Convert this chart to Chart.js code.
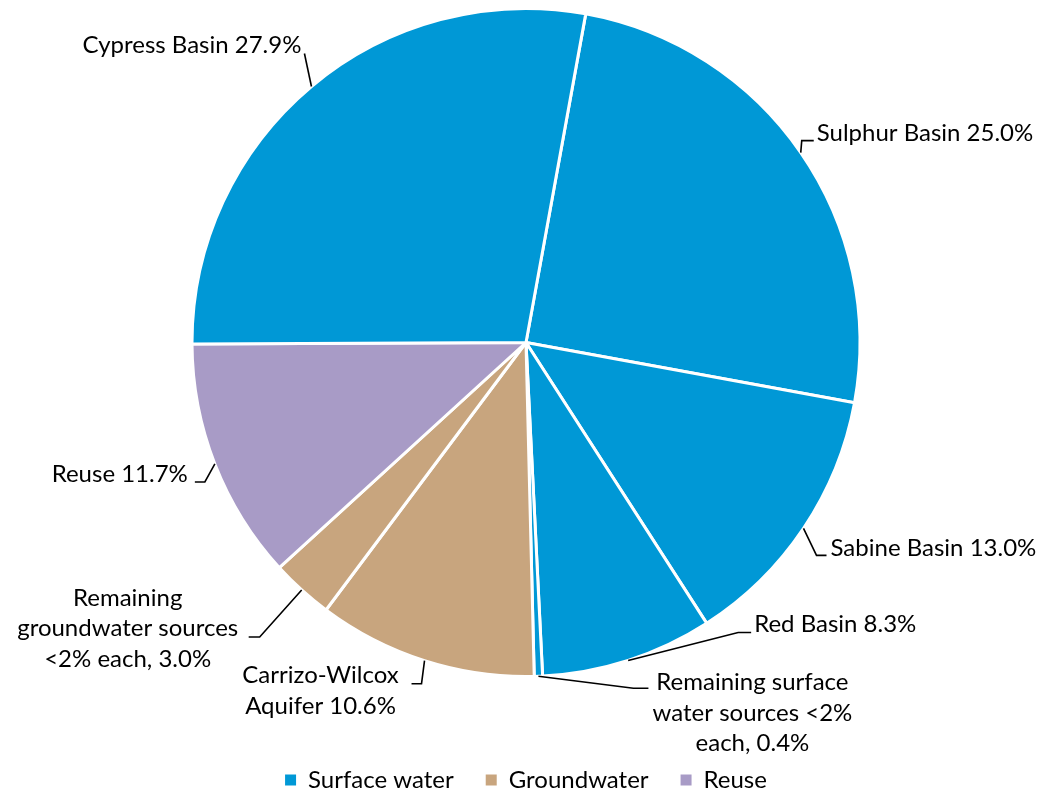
<!DOCTYPE html>
<html>
<head>
<meta charset="utf-8">
<script src="https://cdn.jsdelivr.net/npm/chart.js@4.4.1/dist/chart.umd.min.js"></script>
<style>
  html, body { margin: 0; padding: 0; background: #fff; }
  #wrap { width: 1038px; height: 788px; position: relative; }
</style>
</head>
<body>
<div id="wrap"><canvas id="pieChart"></canvas></div>
<script>
// slices, clockwise from Sulphur Basin
const sliceNames = ['Sulphur Basin', 'Sabine Basin', 'Red Basin',
  'Remaining surface water sources <2% each', 'Carrizo-Wilcox Aquifer',
  'Remaining groundwater sources <2% each', 'Reuse', 'Cypress Basin'];
const sliceValues = [25.0, 13.0, 8.3, 0.4, 10.6, 3.0, 11.7, 27.9];
const sliceGroup = [0, 0, 0, 0, 1, 1, 2, 0];
const sliceLabels = [
  ['Sulphur Basin 25.0%'],
  ['Sabine Basin 13.0%'],
  ['Red Basin 8.3%'],
  ['Remaining surface', 'water sources <2%', 'each, 0.4%'],
  ['Carrizo-Wilcox', 'Aquifer 10.6%'],
  ['Remaining', 'groundwater sources', '<2% each, 3.0%'],
  ['Reuse 11.7%'],
  ['Cypress Basin 27.9%']
];
const groupNames = ['Surface water', 'Groundwater', 'Reuse'];
const groupColors = ['#0098d6', '#c8a57e', '#a89bc6'];

// leader line layout: elbow offset from slice edge, horizontal run, text offset
const leader = [
  { ex: 1, ey: -12, h: 12, tx: 3, ty: -7, align: 'left' },
  { ex: 13, ey: 27, h: 10, tx: 4, ty: -7, align: 'left' },
  { ex: 110, ey: -28, h: 13, tx: 3, ty: -8, align: 'left' },
  { ex: 95, ey: 12, h: 15, tx: 104, ty: -6, align: 'center' },
  { ex: -3, ey: 23, h: -10, tx: -91, ty: -8, align: 'center' },
  { ex: -42, ey: 47, h: -11, tx: -121, ty: -39, align: 'center' },
  { ex: -10, ey: 18, h: -10, tx: -7, ty: -8, align: 'right' },
  { ex: -7, ey: -33, h: 0, tx: -3, ty: -8, align: 'right' }
];

const FAMILY = 'Lato, "Open Sans", sans-serif';
const FONT = '24px ' + FAMILY;

const leaderLabels = {
  id: 'leaderLabels',
  afterDatasetsDraw(chart) {
    const ctx = chart.ctx;
    const arcs = chart.getDatasetMeta(0).data;
    ctx.save();
    ctx.strokeStyle = '#000';
    ctx.lineWidth = 1.6;
    ctx.fillStyle = '#000';
    ctx.font = FONT;
    ctx.textBaseline = 'middle';
    arcs.forEach((arc, i) => {
      const p = arc.getProps(['x', 'y', 'startAngle', 'endAngle', 'outerRadius'], true);
      const mid = (p.startAngle + p.endAngle) / 2;
      const x0 = p.x + Math.cos(mid) * p.outerRadius;
      const y0 = p.y + Math.sin(mid) * p.outerRadius;
      const L = leader[i];
      const x1 = x0 + L.ex, y1 = y0 + L.ey;
      const x2 = x1 + L.h;
      ctx.beginPath();
      ctx.moveTo(x0, y0);
      ctx.lineTo(x1, y1);
      ctx.lineTo(x2, y1);
      ctx.stroke();
      ctx.textAlign = L.align;
      sliceLabels[i].forEach((line, k) => {
        ctx.fillText(line, x2 + L.tx, y1 + L.ty + k * 30.5);
      });
    });
    ctx.restore();
  }
};

const pieChart = new Chart(document.getElementById('pieChart'), {
  type: 'pie',
  data: {
    labels: sliceNames,
    datasets: [{
      data: sliceValues,
      backgroundColor: sliceGroup.map(g => groupColors[g]),
      borderColor: '#fff',
      borderWidth: 3
    }]
  },
  options: {
    responsive: true,
    maintainAspectRatio: false,
    animation: false,
    rotation: 10.3,
    layout: { padding: { top: 7, left: 24, right: 10, bottom: -14 } },
    plugins: {
      tooltip: { enabled: false },
      legend: {
        display: true,
        position: 'bottom',
        title: { display: true, text: '', font: { size: 10, lineHeight: 1.2 }, padding: { top: 46, bottom: 0 } },
        labels: {
          color: '#000',
          font: { family: FAMILY, size: 24 },
          boxWidth: 11,
          boxHeight: 11,
          padding: 32,
          generateLabels: () => groupNames.map((n, i) => ({
            text: n,
            fillStyle: groupColors[i],
            strokeStyle: groupColors[i],
            fontColor: '#000',
            lineWidth: 0,
            hidden: false,
            index: i
          }))
        }
      }
    }
  },
  plugins: [leaderLabels]
});
</script>
</body>
</html>
